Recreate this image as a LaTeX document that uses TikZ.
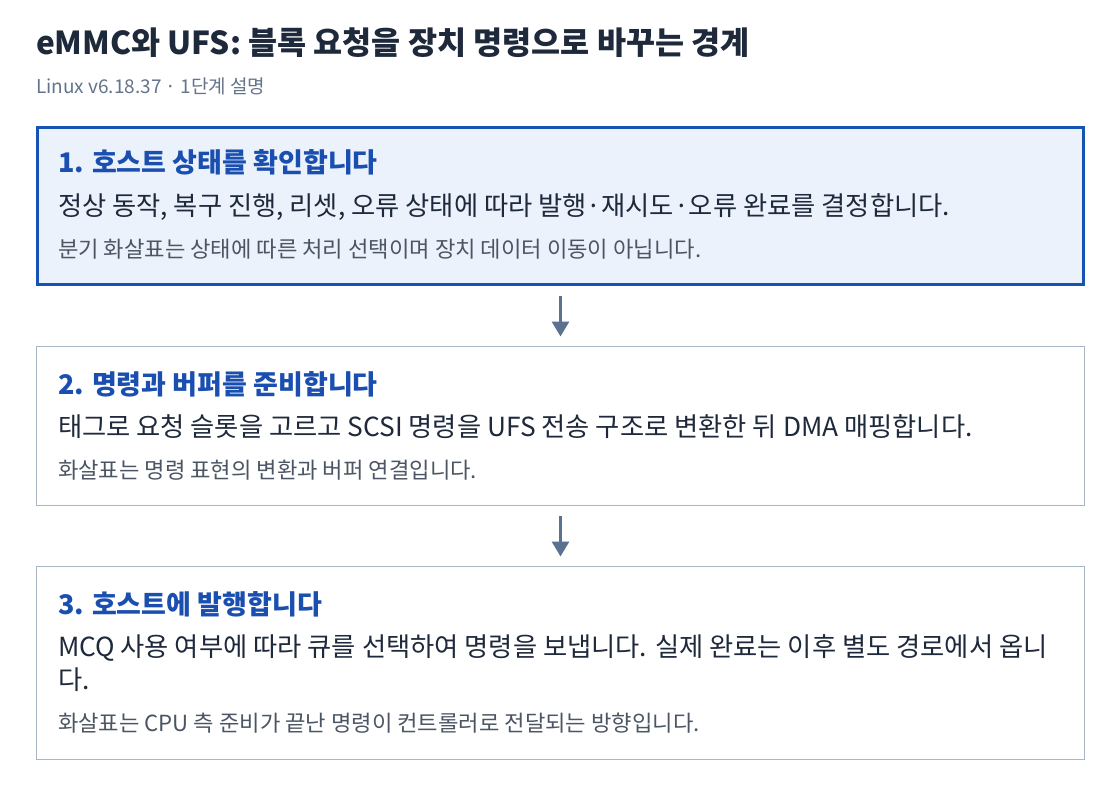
\documentclass[tikz,border=0pt]{standalone}
\usepackage{fontspec}
\setmainfont{Noto Sans CJK KR}
\usetikzlibrary{arrows.meta}
\definecolor{titlec}{HTML}{1E293B}
\definecolor{subc}{HTML}{64748B}
\definecolor{notec}{HTML}{4B5563}
\definecolor{headc}{HTML}{1A4FB0}
\definecolor{activefill}{HTML}{EBF2FC}
\definecolor{activeline}{HTML}{1753B5}
\definecolor{boxline}{HTML}{A9B6C5}
\definecolor{arrowc}{HTML}{5A7290}
\tikzset{
  txt/.style={anchor=base west, inner sep=0pt, outer sep=0pt},
  titletxt/.style={txt, text=titlec, font=\fontsize{31.6}{36}\selectfont\bfseries},
  subtxt/.style={txt, text=subc, font=\fontsize{19}{23}\selectfont},
  headtxt/.style={txt, text=headc, font=\fontsize{27}{31}\selectfont\bfseries},
  bodytxt/.style={txt, text=titlec, font=\fontsize{26.3}{33}\selectfont, align=left},
  notetxt/.style={txt, text=notec, font=\fontsize{22.2}{26}\selectfont},
  activebox/.style={draw=activeline, fill=activefill, line width=3pt, minimum width=1046pt, inner sep=0pt},
  stepbox/.style={draw=boxline, fill=white, line width=1pt, minimum width=1048pt, inner sep=0pt},
  flow/.style={draw=arrowc, line width=3pt, -{Triangle[width=17pt,length=15pt]}, shorten <=10pt, shorten >=9.5pt}
}
\begin{document}
\begin{tikzpicture}[x=1pt,y=-1pt]
\useasboundingbox (0,0) rectangle (1120,788);
\fill[white] (0,0) rectangle (1120,788);
\node[titletxt] (title) at (36,54) {eMMC와 UFS: 블록 요청을 장치 명령으로 바꾸는 경계};
\node[subtxt] (sub) at (36,93) {Linux v6.18.37 · 1단계 설명};

\node[activebox, minimum height=157pt] (b1) at (560.5,206) {};
\node[stepbox, minimum height=159pt] (b2) at (560.5,426) {};
\node[stepbox, minimum height=193pt] (b3) at (560.5,663) {};

\node[headtxt] (h1) at (58,172) {1. 호스트 상태를 확인합니다};
\node[bodytxt] (t1) at (58,215) {정상 동작, 복구 진행, 리셋, 오류 상태에 따라 발행·재시도·오류 완료를 결정합니다.};
\node[notetxt] (n1) at (58,257) {분기 화살표는 상태에 따른 처리 선택이며 장치 데이터 이동이 아닙니다.};

\node[headtxt] (h2) at (58,394) {2. 명령과 버퍼를 준비합니다};
\node[bodytxt] (t2) at (58,436) {태그로 요청 슬롯을 고르고 SCSI 명령을 UFS 전송 구조로 변환한 뒤 DMA 매핑합니다.};
\node[notetxt] (n2) at (58,478) {화살표는 명령 표현의 변환과 버퍼 연결입니다.};

\node[headtxt] (h3) at (58,614) {3. 호스트에 발행합니다};
\node[bodytxt] (t3) at (58,689) {MCQ 사용 여부에 따라 큐를 선택하여 명령을 보냅니다. 실제 완료는 이후 별도 경로에서 옵니\\다.};
\node[notetxt] (n3) at (58,731) {화살표는 CPU 측 준비가 끝난 명령이 컨트롤러로 전달되는 방향입니다.};

\draw[flow] (b1.south) -- (b2.north);
\draw[flow] (b2.south) -- (b3.north);
\end{tikzpicture}
\end{document}
